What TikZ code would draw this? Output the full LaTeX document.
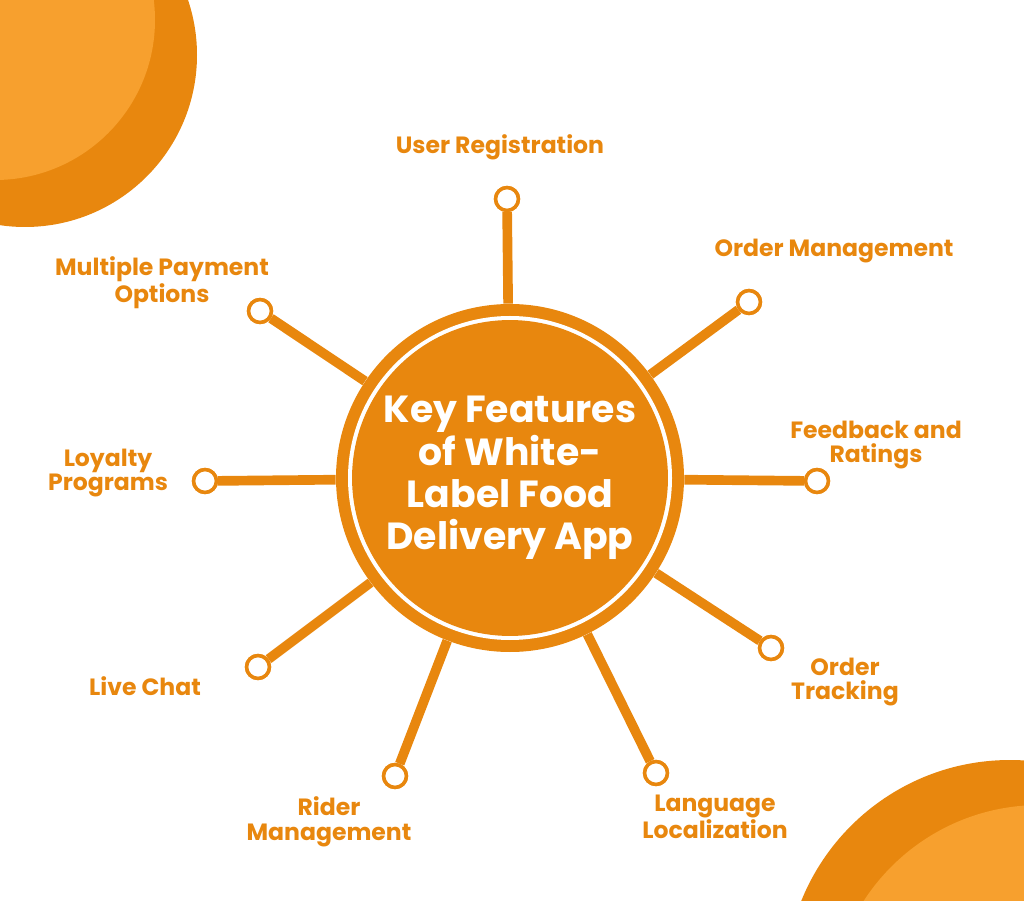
\documentclass[tikz,border=0pt]{standalone}
\usepackage{fontspec}
\setmainfont{Poppins}[BoldFont={* Bold}]
\usetikzlibrary{positioning}
\definecolor{deeporange}{HTML}{E8870E}
\definecolor{softorange}{HTML}{F7A02E}
\tikzset{
  spoke/.style={line width=5.5pt,deeporange},
  tip/.style={circle,draw=deeporange,line width=2pt,fill=white,minimum size=13pt,inner sep=0pt},
  feature/.style={font=\bfseries\fontsize{13.4}{14}\selectfont,text=deeporange,align=center}
}
\begin{document}
\begin{tikzpicture}[x=0.02cm,y=-0.02cm]
   \useasboundingbox (0,0) rectangle (1024,901);
   \begin{scope}
     \clip (0,0) rectangle (1024,901);
     \fill[deeporange] (25,55) circle (172);
     \fill[softorange] (-5,20) circle (160);
     \fill[deeporange] (1010,985) circle (225);
     \fill[softorange] (1040,1015) circle (210);
   \end{scope}

   \node[circle,fill=deeporange,minimum size=348*0.02cm] (hub) at (510,478) {};
   \fill[white] (hub.center) circle (162);
   \node[circle,fill=deeporange,minimum size=312*0.02cm,align=center,text=white,
         font=\bfseries\fontsize{21.5}{24}\selectfont] (core) at (510,478)
         {Key Features\\of White-\\Label Food\\Delivery App};

   % spoke ends
   \node[tip] (t1) at (507,199) {};
   \node[tip] (t2) at (749,302) {};
   \node[tip] (t3) at (817,481) {};
   \node[tip] (t4) at (771,648) {};
   \node[tip] (t5) at (656,773) {};
   \node[tip] (t6) at (395,776) {};
   \node[tip] (t7) at (258,667) {};
   \node[tip] (t8) at (205,481) {};
   \node[tip] (t9) at (260,311) {};

   \foreach \t in {t1,t2,t3,t4,t5,t6,t7,t8,t9}
     \draw[spoke] (hub) -- (\t);
   \foreach \t in {t1,t2,t3,t4,t5,t6,t7,t8,t9}
     \node[tip] at (\t) {};

   % labels
   \node[feature] (l1) at (500,147) {User Registration};
   \node[feature] (l2) at (834,251) {Order Management};
   \node[feature] (l3) at (876,445) {Feedback and\\Ratings};
   \node[feature] (l4) at (845,682) {Order\\Tracking};
   \node[feature] (l5) at (715,817) {Language\\Localization};
   \node[feature] (l6) at (329,822) {Rider\\Management};
   \node[feature] (l7) at (145,686) {Live Chat};
   \node[feature] (l8) at (108,473) {Loyalty\\Programs};
   \node[feature] (l9) at (162,283) {Multiple Payment\\Options};
\end{tikzpicture}
\end{document}
